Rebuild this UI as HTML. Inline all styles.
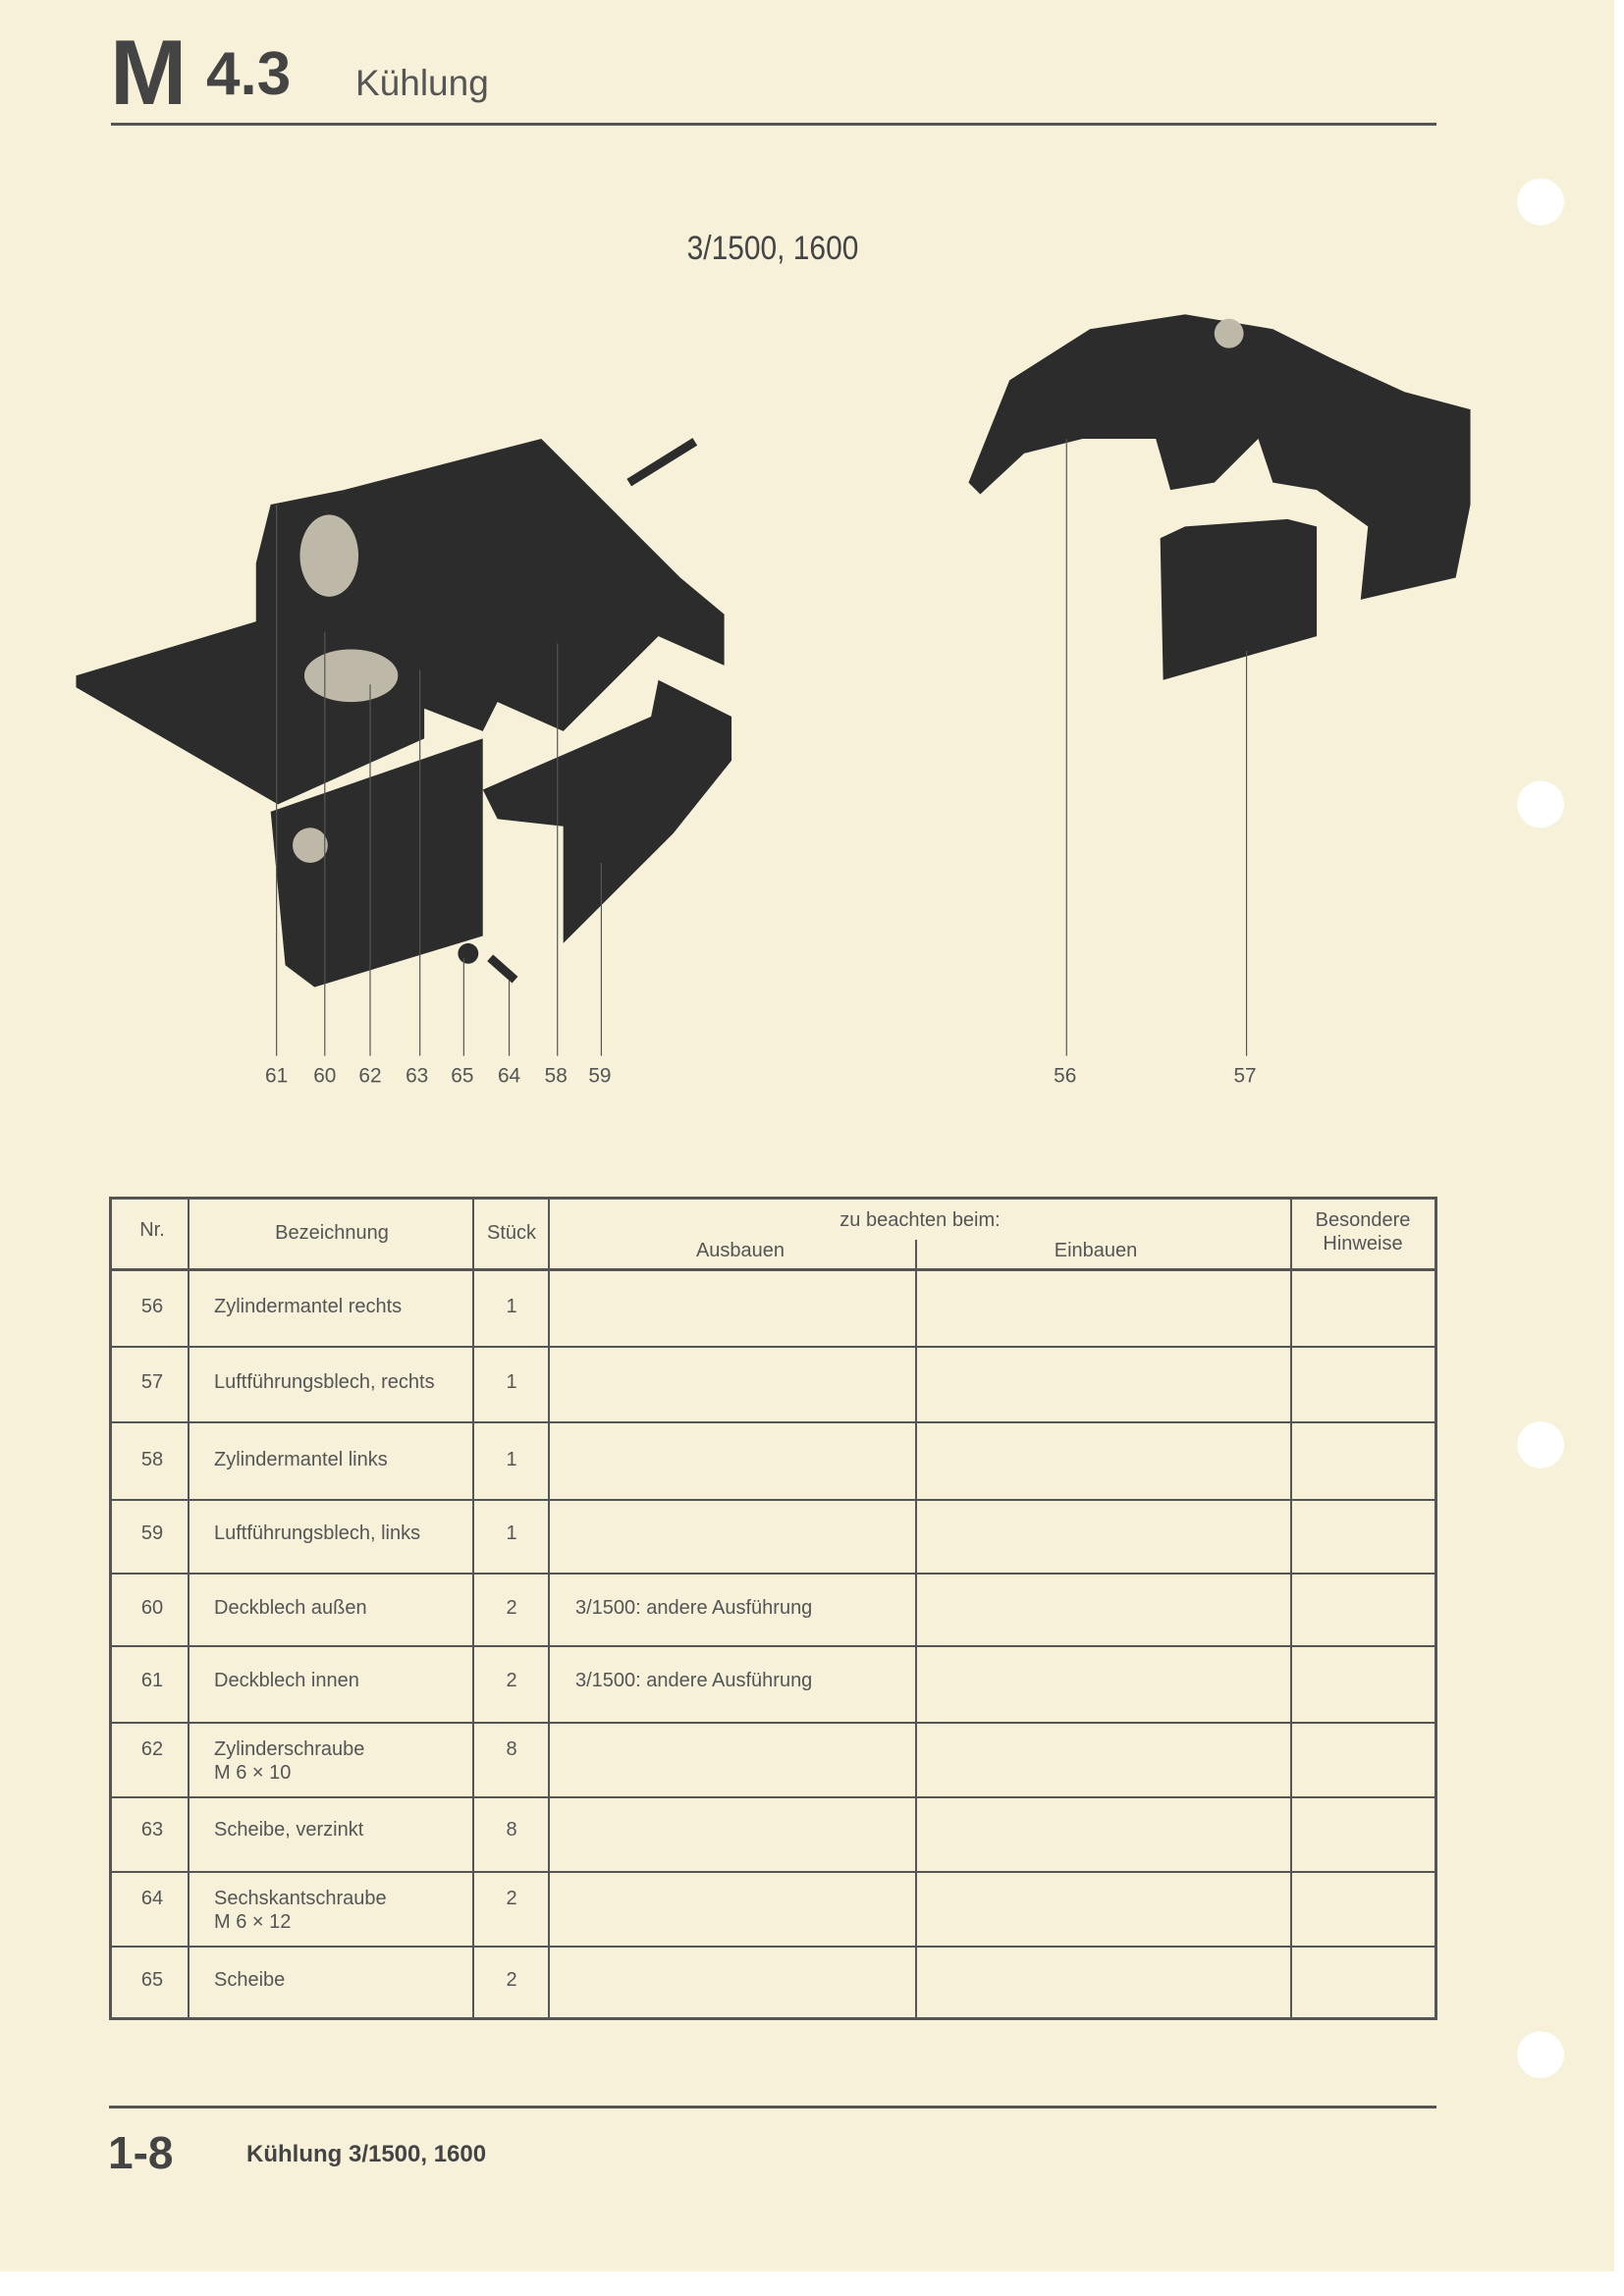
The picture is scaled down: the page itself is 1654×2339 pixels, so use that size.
<!DOCTYPE html>
<html><head><meta charset="utf-8"><style>
*{margin:0;padding:0;box-sizing:border-box}
body{width:1654px;height:2339px;background:#fff;position:relative;overflow:hidden;font-family:"Liberation Sans",sans-serif;color:#4a4a4a}
#page{position:absolute;left:0;top:0;width:1644px;height:2314px;background:#f7f1da}
.a{position:absolute;white-space:nowrap}
.hl{position:absolute;height:2px;background:#555}
.vl{position:absolute;width:2px;background:#555}
.t{position:absolute;font-size:20px;color:#555;white-space:nowrap;line-height:24px}
.c{transform:translateX(-50%)}
</style></head><body>
<div id="page"></div>
<svg style="position:absolute;left:0;top:0" width="1654" height="2339" viewBox="0 0 1110 1570" preserveAspectRatio="none">
<g fill="#fff"><circle cx="1053" cy="138" r="16"/><circle cx="1053" cy="550" r="16"/><circle cx="1053" cy="988" r="16"/><circle cx="1053" cy="1405" r="16"/></g>
<g fill="#2c2c2c">
<polygon points="52,462 175,425 290,480 290,505 190,550 52,470"/>
<polygon points="185,345 235,335 370,300 410,340 465,395 495,420 495,455 450,435 385,500 340,480 330,500 175,440 175,385"/>
<line x1="430" y1="330" x2="475" y2="302" stroke="#2c2c2c" stroke-width="6"/>
<polygon points="185,555 315,510 330,505 330,640 215,675 195,660"/>
<polygon points="330,540 445,490 450,465 500,490 500,520 460,570 385,645 385,565 340,560"/>
<circle cx="320" cy="652" r="7"/>
<line x1="335" y1="655" x2="352" y2="670" stroke="#2c2c2c" stroke-width="6"/>
<polygon points="662,330 690,260 745,225 810,215 870,225 910,245 960,268 1005,280 1005,345 995,395 930,410 935,360 900,335 870,330 860,300 830,330 800,335 790,300 740,300 700,310 670,338"/>
<polygon points="793,368 810,360 880,355 900,360 900,435 795,465"/>
</g>
<g fill="#bdb8a8"><ellipse cx="240" cy="462" rx="32" ry="18"/><ellipse cx="225" cy="380" rx="20" ry="28"/><circle cx="212" cy="578" r="12"/><circle cx="840" cy="228" r="10"/></g>
<g stroke="#555" stroke-width="0.8">
<line x1="189" y1="345" x2="189" y2="722"/><line x1="222" y1="432" x2="222" y2="722"/>
<line x1="253" y1="468" x2="253" y2="722"/><line x1="287" y1="458" x2="287" y2="722"/>
<line x1="317" y1="655" x2="317" y2="722"/><line x1="348" y1="670" x2="348" y2="722"/>
<line x1="381" y1="440" x2="381" y2="722"/><line x1="411" y1="590" x2="411" y2="722"/>
<line x1="729" y1="300" x2="729" y2="722"/><line x1="852" y1="445" x2="852" y2="722"/>
</g>
<g font-family="Liberation Sans, sans-serif" font-size="14" fill="#555" text-anchor="middle">
<text x="189" y="740">61</text><text x="222" y="740">60</text><text x="253" y="740">62</text><text x="285" y="740">63</text><text x="316" y="740">65</text><text x="348" y="740">64</text><text x="380" y="740">58</text><text x="410" y="740">59</text><text x="728" y="740">56</text><text x="851" y="740">57</text>
</g>
</svg>
<div class="a" style="left:112px;top:20px;font-size:94px;font-weight:bold;color:#444;letter-spacing:-4px">M</div>
<div class="a" style="left:210px;top:40px;font-size:62px;font-weight:bold;color:#444">4.3</div>
<div class="a" style="left:362px;top:64px;font-size:37px;color:#555">Kühlung</div>
<div class="a" style="left:113px;top:125px;width:1350px;height:3px;background:#555"></div>
<div class="a" style="left:787px;top:234px;font-size:34px;color:#444;transform:translateX(-50%) scaleX(0.88)">3/1500, 1600</div>

<!-- table -->
<div class="a" style="left:111px;top:1219px;width:1353px;height:839px;border:3px solid #555"></div>
<div class="hl" style="left:112px;top:1292px;width:1350px;height:3px"></div>
<div class="vl" style="left:191px;top:1219px;height:838px"></div>
<div class="vl" style="left:481px;top:1219px;height:838px"></div>
<div class="vl" style="left:558px;top:1219px;height:838px"></div>
<div class="vl" style="left:932px;top:1263px;height:794px"></div>
<div class="vl" style="left:1314px;top:1219px;height:838px"></div>
<div class="hl" style="left:112px;top:1371px;width:1350px"></div>
<div class="hl" style="left:112px;top:1448px;width:1350px"></div>
<div class="hl" style="left:112px;top:1527px;width:1350px"></div>
<div class="hl" style="left:112px;top:1602px;width:1350px"></div>
<div class="hl" style="left:112px;top:1676px;width:1350px"></div>
<div class="hl" style="left:112px;top:1754px;width:1350px"></div>
<div class="hl" style="left:112px;top:1830px;width:1350px"></div>
<div class="hl" style="left:112px;top:1906px;width:1350px"></div>
<div class="hl" style="left:112px;top:1982px;width:1350px"></div>

<div class="t c" style="left:155px;top:1241px">Nr.</div>
<div class="t c" style="left:338px;top:1244px">Bezeichnung</div>
<div class="t c" style="left:521px;top:1244px">Stück</div>
<div class="t c" style="left:937px;top:1231px">zu beachten beim:</div>
<div class="t c" style="left:754px;top:1262px">Ausbauen</div>
<div class="t c" style="left:1116px;top:1262px">Einbauen</div>
<div class="t c" style="left:1388px;top:1231px;text-align:center;line-height:24px">Besondere<br>Hinweise</div>

<div class="t c" style="left:155px;top:1319px">56</div><div class="t" style="left:218px;top:1319px">Zylindermantel rechts</div><div class="t c" style="left:521px;top:1319px">1</div>
<div class="t c" style="left:155px;top:1396px">57</div><div class="t" style="left:218px;top:1396px">Luftführungsblech, rechts</div><div class="t c" style="left:521px;top:1396px">1</div>
<div class="t c" style="left:155px;top:1475px">58</div><div class="t" style="left:218px;top:1475px">Zylindermantel links</div><div class="t c" style="left:521px;top:1475px">1</div>
<div class="t c" style="left:155px;top:1550px">59</div><div class="t" style="left:218px;top:1550px">Luftführungsblech, links</div><div class="t c" style="left:521px;top:1550px">1</div>
<div class="t c" style="left:155px;top:1626px">60</div><div class="t" style="left:218px;top:1626px">Deckblech außen</div><div class="t c" style="left:521px;top:1626px">2</div><div class="t" style="left:586px;top:1626px">3/1500: andere Ausführung</div>
<div class="t c" style="left:155px;top:1700px">61</div><div class="t" style="left:218px;top:1700px">Deckblech innen</div><div class="t c" style="left:521px;top:1700px">2</div><div class="t" style="left:586px;top:1700px">3/1500: andere Ausführung</div>
<div class="t c" style="left:155px;top:1770px">62</div><div class="t" style="left:218px;top:1770px">Zylinderschraube<br>M 6 × 10</div><div class="t c" style="left:521px;top:1770px">8</div>
<div class="t c" style="left:155px;top:1852px">63</div><div class="t" style="left:218px;top:1852px">Scheibe, verzinkt</div><div class="t c" style="left:521px;top:1852px">8</div>
<div class="t c" style="left:155px;top:1922px">64</div><div class="t" style="left:218px;top:1922px">Sechskantschraube<br>M 6 × 12</div><div class="t c" style="left:521px;top:1922px">2</div>
<div class="t c" style="left:155px;top:2005px">65</div><div class="t" style="left:218px;top:2005px">Scheibe</div><div class="t c" style="left:521px;top:2005px">2</div>

<div class="a" style="left:111px;top:2145px;width:1352px;height:3px;background:#555"></div>
<div class="a" style="left:110px;top:2166px;font-size:46px;font-weight:bold;color:#444">1-8</div>
<div class="a" style="left:251px;top:2181px;font-size:24px;font-weight:bold;color:#444">Kühlung 3/1500, 1600</div>
</body></html>
